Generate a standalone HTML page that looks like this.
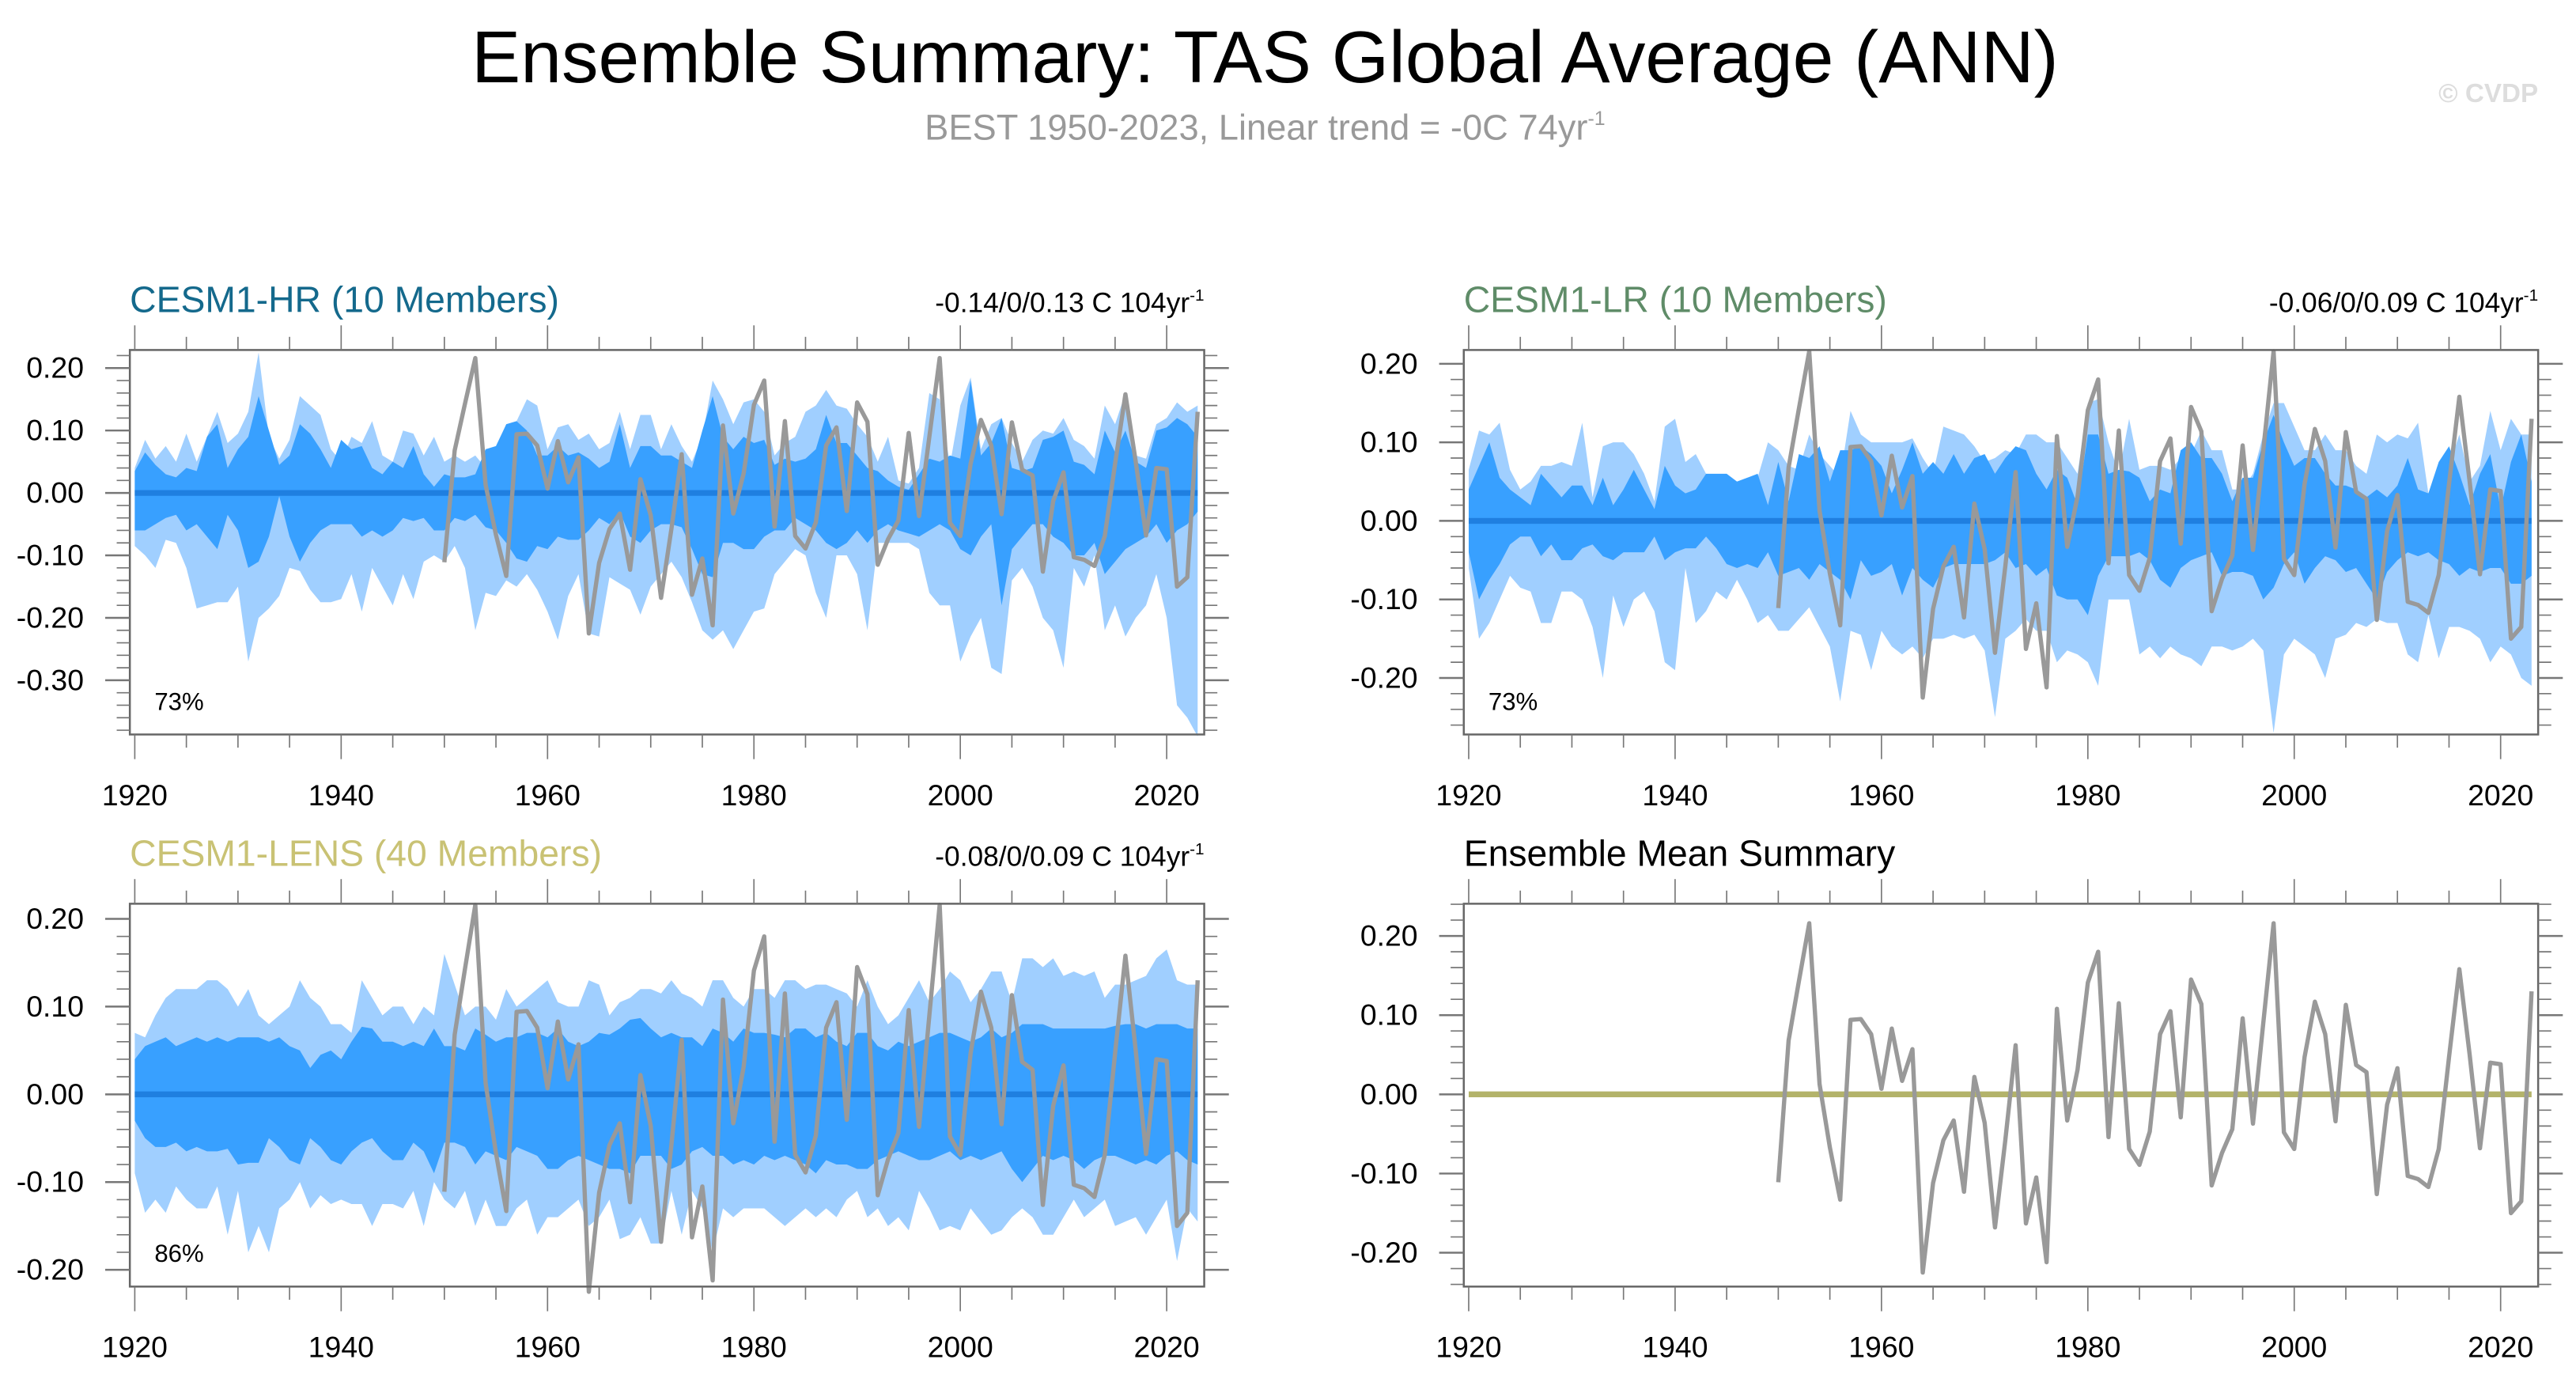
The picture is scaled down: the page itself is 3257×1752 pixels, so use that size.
<!DOCTYPE html>
<html><head><meta charset="utf-8"><style>
html,body{margin:0;padding:0;background:#fff}
svg{display:block;font-family:"Liberation Sans",sans-serif}
</style></head><body>
<svg id="chart" width="3257" height="1752" viewBox="0 0 1568 843.5" xmlns="http://www.w3.org/2000/svg">
<text x="770" y="50" font-size="44.8" text-anchor="middle" fill="#000">Ensemble Summary: TAS Global Average (ANN)</text>
<text x="770" y="85" font-size="21.8" text-anchor="middle" fill="#999">BEST 1950-2023, Linear trend = -0C 74yr<tspan font-size="12" dy="-9">-1</tspan></text>
<text x="1545" y="62" font-size="16" font-weight="bold" text-anchor="end" fill="#ddd">© CVDP</text>
</svg>
<script>
const years = []; for (let y = 1920; y <= 2023; y++) years.push(y);
const bestYears = []; for (let y = 1950; y <= 2023; y++) bestYears.push(y);
const bestValues = [-0.111,0.068,0.143,0.216,0.013,-0.067,-0.133,0.094,0.095,0.076,
0.007,0.083,0.017,0.057,-0.225,-0.112,-0.058,-0.033,-0.123,0.022,
-0.036,-0.168,-0.058,0.062,-0.163,-0.105,-0.212,0.108,-0.033,0.031,
0.141,0.180,-0.054,0.115,-0.069,-0.089,-0.047,0.076,0.105,-0.029,
0.145,0.114,-0.115,-0.074,-0.044,0.096,-0.037,0.09,0.216,-0.048,
-0.069,0.047,0.117,0.076,-0.034,0.113,0.037,0.028,-0.126,-0.013,
0.033,-0.103,-0.107,-0.117,-0.069,0.047,0.158,0.05,-0.068,0.04,
0.038,-0.15,-0.135,0.13];

const hrLightUpper = [0.04,0.085,0.055,0.075,0.05,0.095,0.05,0.09,0.13,0.08,0.095,0.13,0.225,0.09,0.055,0.085,0.155,0.14,0.125,0.07,0.05,0.09,0.08,0.115,0.06,0.05,0.1,0.095,0.06,0.09,0.05,0.06,0.05,0.06,0.04,0.07,0.11,0.115,0.15,0.14,0.07,0.105,0.11,0.085,0.095,0.07,0.08,0.13,0.07,0.125,0.125,0.07,0.11,0.075,0.05,0.09,0.18,0.15,0.11,0.145,0.15,0.13,0.06,0.08,0.09,0.13,0.14,0.165,0.14,0.135,0.11,0.09,0.05,0.09,0.02,0.015,0.04,0.16,0.15,0.045,0.14,0.185,0.07,0.11,0.12,0.08,0.05,0.085,0.1,0.095,0.12,0.085,0.075,0.055,0.14,0.11,0.16,0.06,0.055,0.11,0.12,0.145,0.13,0.14];
const hrDarkUpper = [0.035,0.065,0.045,0.03,0.025,0.04,0.035,0.09,0.11,0.04,0.07,0.09,0.155,0.1,0.045,0.06,0.11,0.095,0.07,0.04,0.085,0.07,0.075,0.04,0.03,0.05,0.04,0.075,0.03,0.01,0.03,0.025,0.025,0.03,0.07,0.075,0.11,0.115,0.1,0.06,0.06,0.075,0.06,0.065,0.055,0.04,0.05,0.11,0.04,0.075,0.075,0.06,0.06,0.05,0.04,0.1,0.155,0.09,0.07,0.09,0.08,0.085,0.045,0.055,0.05,0.055,0.07,0.125,0.08,0.08,0.06,0.04,0.035,0.02,0.01,0.005,0.03,0.055,0.05,0.06,0.055,0.18,0.06,0.08,0.12,0.04,0.035,0.04,0.085,0.09,0.1,0.05,0.045,0.03,0.1,0.065,0.1,0.05,0.04,0.1,0.105,0.12,0.11,0.09];
const hrDarkLower = [-0.06,-0.06,-0.05,-0.04,-0.035,-0.06,-0.05,-0.07,-0.09,-0.035,-0.06,-0.12,-0.11,-0.07,-0.005,-0.07,-0.11,-0.08,-0.06,-0.05,-0.05,-0.05,-0.07,-0.06,-0.07,-0.06,-0.04,-0.045,-0.04,-0.06,-0.06,-0.04,-0.045,-0.035,-0.055,-0.06,-0.08,-0.105,-0.11,-0.085,-0.09,-0.07,-0.075,-0.075,-0.06,-0.04,-0.05,-0.03,-0.07,-0.08,-0.06,-0.05,-0.05,-0.055,-0.09,-0.13,-0.135,-0.08,-0.08,-0.09,-0.09,-0.07,-0.06,-0.06,-0.04,-0.05,-0.06,-0.08,-0.09,-0.08,-0.06,-0.08,-0.06,-0.05,-0.06,-0.065,-0.07,-0.06,-0.05,-0.06,-0.09,-0.1,-0.07,-0.05,-0.18,-0.09,-0.07,-0.05,-0.05,-0.07,-0.08,-0.1,-0.1,-0.08,-0.13,-0.11,-0.09,-0.08,-0.07,-0.05,-0.08,-0.06,-0.05,-0.03];
const hrLightLower = [-0.085,-0.1,-0.12,-0.075,-0.08,-0.12,-0.185,-0.18,-0.175,-0.175,-0.15,-0.27,-0.2,-0.185,-0.165,-0.12,-0.125,-0.155,-0.175,-0.175,-0.17,-0.13,-0.19,-0.12,-0.15,-0.18,-0.13,-0.17,-0.11,-0.1,-0.11,-0.085,-0.12,-0.22,-0.16,-0.165,-0.14,-0.15,-0.13,-0.155,-0.19,-0.235,-0.165,-0.13,-0.225,-0.23,-0.135,-0.145,-0.155,-0.195,-0.15,-0.13,-0.11,-0.135,-0.175,-0.22,-0.235,-0.22,-0.25,-0.22,-0.19,-0.185,-0.13,-0.11,-0.09,-0.1,-0.16,-0.2,-0.1,-0.1,-0.13,-0.22,-0.08,-0.08,-0.08,-0.08,-0.09,-0.16,-0.18,-0.18,-0.27,-0.23,-0.2,-0.28,-0.29,-0.14,-0.12,-0.15,-0.2,-0.22,-0.28,-0.12,-0.15,-0.1,-0.22,-0.18,-0.23,-0.2,-0.18,-0.13,-0.2,-0.34,-0.36,-0.39];

const lrLightUpper = [0.065,0.115,0.11,0.125,0.065,0.04,0.05,0.07,0.07,0.075,0.07,0.125,0.03,0.095,0.1,0.1,0.085,0.06,0.025,0.12,0.13,0.075,0.085,0.06,0.055,0.055,0.05,0.055,0.055,0.1,0.09,0.07,0.065,0.11,0.085,0.07,0.055,0.14,0.11,0.1,0.1,0.1,0.1,0.105,0.08,0.06,0.12,0.115,0.11,0.095,0.075,0.08,0.09,0.085,0.11,0.11,0.1,0.1,0.08,0.06,0.15,0.155,0.1,0.06,0.13,0.065,0.07,0.07,0.065,0.08,0.085,0.115,0.09,0.09,0.04,0.04,0.06,0.11,0.15,0.15,0.12,0.09,0.09,0.11,0.09,0.09,0.07,0.06,0.11,0.1,0.11,0.105,0.125,0.035,0.06,0.07,0.11,0.05,0.07,0.14,0.09,0.13,0.11,0.11];
const lrDarkUpper = [0.04,0.07,0.1,0.055,0.04,0.03,0.02,0.06,0.045,0.03,0.045,0.045,0.02,0.055,0.02,0.04,0.065,0.04,0.015,0.07,0.045,0.035,0.04,0.06,0.06,0.06,0.05,0.055,0.06,0.02,0.075,0.025,0.085,0.08,0.095,0.05,0.09,0.09,0.095,0.085,0.07,0.035,0.065,0.1,0.06,0.075,0.06,0.085,0.06,0.08,0.085,0.06,0.08,0.095,0.09,0.06,0.04,0.065,0.055,0.02,0.11,0.11,0.06,0.065,0.063,0.055,0.025,0.04,0.035,0.09,0.1,0.08,0.08,0.06,0.025,0.055,0.055,0.1,0.135,0.1,0.07,0.08,0.08,0.06,0.045,0.045,0.04,0.03,0.04,0.03,0.045,0.08,0.04,0.035,0.075,0.095,0.06,0.02,0.06,0.085,0.015,0.075,0.11,0.05];
const lrDarkLower = [-0.04,-0.1,-0.075,-0.055,-0.03,-0.02,-0.02,-0.045,-0.03,-0.05,-0.05,-0.035,-0.03,-0.045,-0.05,-0.04,-0.04,-0.04,-0.02,-0.05,-0.04,-0.035,-0.035,-0.02,-0.035,-0.055,-0.06,-0.055,-0.06,-0.04,-0.07,-0.065,-0.06,-0.075,-0.055,-0.065,-0.075,-0.1,-0.05,-0.07,-0.065,-0.055,-0.095,-0.06,-0.075,-0.085,-0.06,-0.055,-0.055,-0.055,-0.055,-0.05,-0.04,-0.06,-0.055,-0.07,-0.06,-0.095,-0.1,-0.1,-0.12,-0.07,-0.045,-0.045,-0.045,-0.04,-0.05,-0.075,-0.085,-0.06,-0.05,-0.045,-0.04,-0.07,-0.065,-0.065,-0.07,-0.1,-0.085,-0.055,-0.04,-0.08,-0.06,-0.045,-0.05,-0.065,-0.06,-0.08,-0.1,-0.065,-0.05,-0.04,-0.045,-0.04,-0.05,-0.055,-0.07,-0.06,-0.065,-0.06,-0.06,-0.08,-0.08,-0.07];
const lrLightLower = [-0.06,-0.15,-0.13,-0.1,-0.07,-0.085,-0.09,-0.13,-0.13,-0.09,-0.09,-0.1,-0.135,-0.2,-0.095,-0.135,-0.1,-0.09,-0.115,-0.18,-0.19,-0.06,-0.13,-0.115,-0.09,-0.1,-0.075,-0.1,-0.13,-0.12,-0.14,-0.14,-0.125,-0.11,-0.135,-0.16,-0.23,-0.14,-0.145,-0.19,-0.14,-0.16,-0.17,-0.16,-0.175,-0.15,-0.15,-0.145,-0.15,-0.145,-0.165,-0.25,-0.15,-0.14,-0.125,-0.14,-0.14,-0.18,-0.165,-0.17,-0.18,-0.21,-0.1,-0.1,-0.1,-0.17,-0.16,-0.175,-0.16,-0.17,-0.175,-0.185,-0.16,-0.16,-0.165,-0.16,-0.15,-0.165,-0.27,-0.17,-0.15,-0.16,-0.17,-0.2,-0.15,-0.145,-0.13,-0.135,-0.125,-0.13,-0.13,-0.17,-0.18,-0.12,-0.175,-0.135,-0.135,-0.14,-0.15,-0.18,-0.16,-0.17,-0.2,-0.21];

const lensLightUpper = [0.07,0.065,0.09,0.11,0.12,0.12,0.12,0.13,0.13,0.12,0.1,0.12,0.09,0.08,0.09,0.1,0.13,0.11,0.1,0.08,0.08,0.07,0.13,0.11,0.09,0.1,0.1,0.08,0.1,0.09,0.16,0.125,0.09,0.1,0.1,0.085,0.12,0.1,0.11,0.12,0.13,0.105,0.1,0.1,0.13,0.125,0.09,0.105,0.11,0.12,0.12,0.115,0.13,0.115,0.11,0.1,0.13,0.13,0.11,0.1,0.12,0.12,0.11,0.13,0.13,0.12,0.125,0.125,0.12,0.115,0.1,0.13,0.1,0.08,0.09,0.11,0.13,0.105,0.12,0.14,0.13,0.105,0.12,0.14,0.14,0.105,0.155,0.155,0.145,0.155,0.135,0.14,0.135,0.14,0.11,0.125,0.125,0.13,0.135,0.155,0.165,0.13,0.125,0.125];
const lensDarkUpper = [0.04,0.055,0.06,0.065,0.055,0.06,0.065,0.06,0.065,0.06,0.065,0.065,0.065,0.06,0.065,0.055,0.05,0.03,0.045,0.05,0.04,0.06,0.077,0.075,0.06,0.06,0.055,0.06,0.055,0.075,0.055,0.055,0.05,0.075,0.068,0.06,0.065,0.065,0.07,0.07,0.065,0.075,0.06,0.055,0.06,0.07,0.068,0.075,0.085,0.087,0.075,0.065,0.07,0.065,0.065,0.055,0.075,0.07,0.06,0.075,0.07,0.07,0.068,0.065,0.075,0.075,0.065,0.07,0.06,0.055,0.07,0.07,0.055,0.05,0.06,0.055,0.06,0.065,0.07,0.07,0.065,0.06,0.065,0.075,0.065,0.07,0.08,0.08,0.08,0.075,0.075,0.075,0.075,0.075,0.075,0.078,0.08,0.08,0.075,0.08,0.08,0.08,0.075,0.075];
const lensDarkLower = [-0.03,-0.05,-0.06,-0.06,-0.055,-0.065,-0.06,-0.065,-0.065,-0.062,-0.08,-0.078,-0.078,-0.05,-0.06,-0.075,-0.08,-0.05,-0.06,-0.075,-0.08,-0.065,-0.055,-0.05,-0.065,-0.075,-0.075,-0.055,-0.065,-0.09,-0.055,-0.055,-0.06,-0.08,-0.065,-0.07,-0.075,-0.06,-0.065,-0.07,-0.085,-0.085,-0.075,-0.07,-0.075,-0.08,-0.085,-0.085,-0.09,-0.07,-0.07,-0.07,-0.085,-0.08,-0.065,-0.06,-0.07,-0.07,-0.08,-0.075,-0.08,-0.07,-0.075,-0.07,-0.075,-0.08,-0.09,-0.075,-0.08,-0.08,-0.085,-0.085,-0.075,-0.07,-0.065,-0.07,-0.075,-0.075,-0.07,-0.065,-0.075,-0.07,-0.075,-0.07,-0.065,-0.085,-0.1,-0.085,-0.07,-0.075,-0.07,-0.075,-0.085,-0.075,-0.07,-0.07,-0.075,-0.08,-0.075,-0.08,-0.07,-0.065,-0.075,-0.08];
const lensLightLower = [-0.09,-0.135,-0.12,-0.135,-0.105,-0.12,-0.13,-0.13,-0.105,-0.16,-0.11,-0.18,-0.15,-0.18,-0.13,-0.12,-0.1,-0.13,-0.115,-0.125,-0.12,-0.125,-0.125,-0.15,-0.125,-0.125,-0.13,-0.11,-0.15,-0.1,-0.12,-0.13,-0.11,-0.15,-0.12,-0.15,-0.15,-0.13,-0.12,-0.16,-0.14,-0.14,-0.13,-0.12,-0.15,-0.14,-0.12,-0.165,-0.16,-0.14,-0.17,-0.17,-0.11,-0.16,-0.11,-0.13,-0.18,-0.13,-0.14,-0.13,-0.13,-0.13,-0.14,-0.15,-0.14,-0.13,-0.14,-0.13,-0.14,-0.12,-0.11,-0.14,-0.13,-0.15,-0.14,-0.155,-0.11,-0.13,-0.155,-0.15,-0.155,-0.13,-0.145,-0.16,-0.155,-0.14,-0.13,-0.14,-0.16,-0.16,-0.14,-0.12,-0.14,-0.13,-0.12,-0.15,-0.145,-0.14,-0.16,-0.14,-0.12,-0.19,-0.13,-0.145];

const xTickLabels = [1920,1940,1960,1980,2000,2020];
const yTicksHR = [0.2,0.1,0,-0.1,-0.2,-0.3];
const yTicksLR = [0.2,0.1,0,-0.1,-0.2];
const yTicksLENS = [0.2,0.1,0,-0.1,-0.2];
const yTicksMean = [0.2,0.1,0,-0.1,-0.2];

const svg = document.getElementById('chart');
const NS = 'http://www.w3.org/2000/svg';
function mk(tag, attrs, parent){ const e=document.createElementNS(NS,tag); for(const k in attrs) e.setAttribute(k,attrs[k]); (parent||svg).appendChild(e); return e; }

function panel(p){
  const g = mk('g',{});
  
  
  const X = yr => p.L + 3 + (yr-1920)*(p.R-3-p.L-4)/103;
  const Y = v => p.zero - v*p.ppt*100;
  const band = (up, lo, fill, nm) => {
    let d = 'M' + years.map((y,i)=>X(y).toFixed(2)+','+Y(up[i]).toFixed(2)).join('L');
    for (let i=years.length-1;i>=0;i--) d += 'L'+X(years[i]).toFixed(2)+','+Y(lo[i]).toFixed(2);
    const e = mk('path',{d:d+'Z',fill:fill},g);
    
    
  };
  if (p.bands) {
    band(p.bands[0], p.bands[3], '#a0cfff', 'outer-spread-band');
    band(p.bands[1], p.bands[2], '#38a0ff', 'inner-spread-band');
  }
  const ml = mk('line',{x1:X(1920),x2:X(2023),y1:Y(0),y2:Y(0),stroke:p.meanColor,'stroke-width':3.5},g);
  
  
  const bl = mk('polyline',{points:bestYears.map((y,i)=>X(y).toFixed(2)+','+Y(bestValues[i]).toFixed(2)).join(' '),fill:'none',stroke:'#999','stroke-width':2.6,'stroke-linejoin':'round'},g);
  
  
  const box = mk('rect',{x:p.L,y:p.T,width:p.R-p.L,height:p.B-p.T,fill:'none',stroke:'#666','stroke-width':1.2},g);
  
  
  for (let yr=1920; yr<=2020; yr+=5){
    const major = yr%20===0, len = major?15:8;
    mk('line',{x1:X(yr),x2:X(yr),y1:p.T,y2:p.T-len,stroke:'#777','stroke-width':0.8},g);
    mk('line',{x1:X(yr),x2:X(yr),y1:p.B,y2:p.B+len,stroke:'#777','stroke-width':0.8},g);
  }
  xTickLabels.forEach(yr=>{
    const t = mk('text',{x:X(yr),y:p.B+43,'font-size':18,'text-anchor':'middle',fill:'#000'},g);
    t.textContent = yr;
    
    
  });
  const vTop=(p.zero-p.T)/(p.ppt*100), vBot=(p.zero-p.B)/(p.ppt*100);
  for (let k=Math.ceil(vBot*50); k<=Math.floor(vTop*50); k++){
    const v=k/50, major = k%5===0, len = major?15:8;
    mk('line',{x1:p.L,x2:p.L-len,y1:Y(v),y2:Y(v),stroke:'#777','stroke-width':major?1.2:0.8},g);
    mk('line',{x1:p.R,x2:p.R+len,y1:Y(v),y2:Y(v),stroke:'#777','stroke-width':major?1.2:0.8},g);
  }
  p.yTicks.forEach(v=>{
    const t = mk('text',{x:p.L-28,y:Y(v)+6,'font-size':18,'text-anchor':'end',fill:'#000'},g);
    t.textContent = v.toFixed(2);
    
    
  });
  const ti = mk('text',{x:p.L,y:p.T-23,'font-size':22.3,fill:p.titleColor},g);
  ti.textContent = p.title;
  
  
  if (p.trend){
    const tr = mk('text',{x:p.R,y:p.T-23,'font-size':17,'text-anchor':'end',fill:'#000'},g);
    tr.innerHTML = p.trend + ' C 104yr<tspan font-size="10" dy="-7">-1</tspan>';
    
    
  }
  if (p.pct){
    const pc = mk('text',{x:p.L+15,y:p.B-15,'font-size':15,fill:'#000'},g);
    pc.textContent = p.pct;
    
    
  }
}

panel({name:'cesm1-hr-panel',L:79,R:733,T:213,B:447,zero:300,ppt:3.8,yTicks:yTicksHR,title:'CESM1-HR (10 Members)',titleColor:'#14698c',trend:'-0.14/0/0.13',pct:'73%',meanColor:'#1f7fe0',bands:[hrLightUpper,hrDarkUpper,hrDarkLower,hrLightLower]});
panel({name:'cesm1-lr-panel',L:891,R:1545,T:213,B:447,zero:317,ppt:4.78,yTicks:yTicksLR,title:'CESM1-LR (10 Members)',titleColor:'#5f8c68',trend:'-0.06/0/0.09',pct:'73%',meanColor:'#1f7fe0',bands:[lrLightUpper,lrDarkUpper,lrDarkLower,lrLightLower]});
panel({name:'cesm1-lens-panel',L:79,R:733,T:550,B:783,zero:666,ppt:5.34,yTicks:yTicksLENS,title:'CESM1-LENS (40 Members)',titleColor:'#c9c274',trend:'-0.08/0/0.09',pct:'86%',meanColor:'#1f7fe0',bands:[lensLightUpper,lensDarkUpper,lensDarkLower,lensLightLower]});
panel({name:'ensemble-mean-panel',L:891,R:1545,T:550,B:783,zero:666,ppt:4.82,yTicks:yTicksMean,title:'Ensemble Mean Summary',titleColor:'#000',meanColor:'#b3b36a'});
</script>
</body></html>
